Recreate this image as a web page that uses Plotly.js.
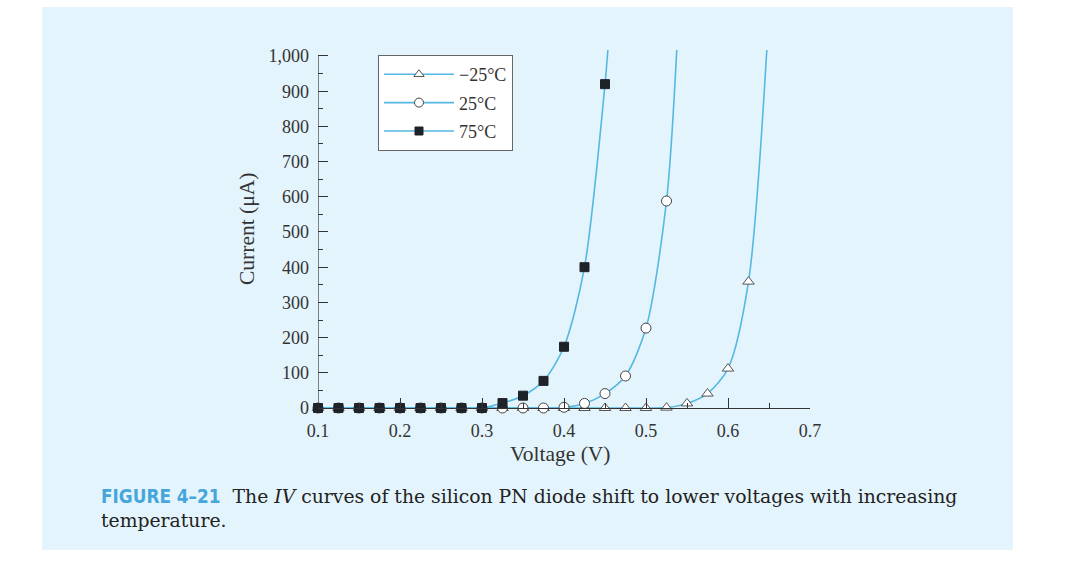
<!DOCTYPE html>
<html>
<head>
<meta charset="utf-8">
<script src="https://cdn.plot.ly/plotly-3.0.1.min.js"></script>
<style>html,body{margin:0;padding:0;background:#fff;}#chart{width:1072px;height:566px;}</style>
</head>
<body>
<div id="chart"></div>
<script>
// ---- data ----
const seriesNames = ["\u221225\u00b0C", "25\u00b0C", "75\u00b0C"];
const voltageM25 = [0.1,0.125,0.15,0.175,0.2,0.225,0.25,0.275,0.3,0.325,0.35,0.375,0.4,0.425,0.45,0.475,0.5,0.525,0.55,0.575,0.6,0.625];
const currentM25 = [0,0,0,0,0,0,0,0,0,0,0,0,0,0,0,0,0,1,13,41,112,359];
const voltage25 = [0.1,0.125,0.15,0.175,0.2,0.225,0.25,0.275,0.3,0.325,0.35,0.375,0.4,0.425,0.45,0.475,0.5,0.525];
const current25 = [0,0,0,0,0,0,0,0,0,0,0,0,2,13,41,91,227,588];
const voltage75 = [0.1,0.125,0.15,0.175,0.2,0.225,0.25,0.275,0.3,0.325,0.35,0.375,0.4,0.425,0.45];
const current75 = [0,0,0,0,0,0,0,0,0,14,35,77,174,400,920];
// where each curve leaves the top of the plot
const curveTopVoltage = [0.6473, 0.5375, 0.4535];
const curveTopCurrent = [1017, 1017, 1017];
const xTickVals = [0.1,0.2,0.3,0.4,0.5,0.6,0.7];
const yTickVals = [0,100,200,300,400,500,600,700,800,900,1000];
const xTitle = "Voltage (V)";
const yTitle = "Current (\u03bcA)";
const captionLabel = "FIGURE 4\u201321";
const captionText = "The <i>IV</i> curves of the silicon PN diode shift to lower voltages with increasing<br>temperature.";

// ---- styling / geometry ----
const W = 1072, H = 566;
const L = 318, R = 810, T = 50, B = 408;
const pw = R - L, ph = B - T;
const px = x => (x - L) / pw;
const py = y => (B - y) / ph;
const lineColor = "#55b8e2";
const serif = "Liberation Serif, Times New Roman, serif";
const captionSerif = "DejaVu Serif, Liberation Serif, serif";

const volts = [voltageM25, voltage25, voltage75];
const amps = [currentM25, current25, current75];
const markers = [
  {symbol: "triangle-up", size: 10, color: "#ffffff", line: {color: "#555", width: 1}},
  {symbol: "circle", size: 10, color: "#ffffff", line: {color: "#444", width: 1}},
  {symbol: "square", size: 9, color: "#1e2229", line: {color: "#1e2229", width: 1}}
];
const legendMarkers = [
  {symbol: "triangle-up", size: 9, color: "#ffffff", line: {color: "#555", width: 1}},
  {symbol: "circle", size: 9, color: "#ffffff", line: {color: "#444", width: 1}},
  {symbol: "square", size: 8, color: "#1e2229", line: {color: "#1e2229", width: 1}}
];

const traces = [];
for (let i = 0; i < 3; i++) {
  traces.push({
    x: volts[i].concat([curveTopVoltage[i]]),
    y: amps[i].concat([curveTopCurrent[i]]),
    type: "scatter", mode: "lines",
    line: {color: lineColor, width: 1.6, shape: "spline", smoothing: 0.8},
    showlegend: false, hoverinfo: "skip"
  });
}
for (let i = 0; i < 3; i++) {
  traces.push({
    x: volts[i], y: amps[i], type: "scatter", mode: "markers",
    marker: markers[i], cliponaxis: false, showlegend: false, name: seriesNames[i]
  });
}
for (let i = 0; i < 3; i++) {
  traces.push({
    x: [null], y: [null], type: "scatter", mode: "lines+markers",
    name: seriesNames[i], legendgroup: "g" + i,
    line: {color: lineColor, width: 1.6},
    marker: legendMarkers[i], showlegend: true
  });
}

const layout = {
  width: W, height: H,
  margin: {l: L, r: W - R, t: T, b: H - B, pad: 0},
  paper_bgcolor: "#ffffff",
  plot_bgcolor: "rgba(0,0,0,0)",
  showlegend: true,
  legend: {
    x: px(378), y: py(55), xanchor: "left", yanchor: "top",
    bgcolor: "#ffffff", bordercolor: "#666", borderwidth: 1,
    font: {family: serif, size: 18, color: "#333"},
    itemwidth: 70, tracegroupgap: 2
  },
  xaxis: {
    range: [0.1, 0.7], tickvals: xTickVals, ticktext: xTickVals.map(v => v.toFixed(1)),
    ticks: "inside", ticklen: 10, tickwidth: 1, tickcolor: "#333",
    minor: {ticks: "inside", ticklen: 5, dtick: 0.05, tick0: 0.1, tickcolor: "#333"},
    showline: true, linecolor: "#333", linewidth: 1.2,
    showgrid: false, zeroline: false,
    tickfont: {family: serif, size: 18, color: "#333"},
    ticklabelstandoff: 6, fixedrange: true
  },
  yaxis: {
    range: [0, 1017], tickvals: yTickVals,
    ticks: "inside", ticklen: 10, tickwidth: 1, tickcolor: "#333",
    minor: {ticks: "inside", ticklen: 5, dtick: 50, tick0: 0, tickcolor: "#333"},
    showline: false, showgrid: false, zeroline: false,
    separatethousands: true, tickformat: ",d",
    tickfont: {family: serif, size: 18, color: "#333"},
    ticklabelstandoff: 8, fixedrange: true
  },
  shapes: [
    {type: "rect", xref: "paper", yref: "paper", x0: px(42), x1: px(1013), y0: py(550), y1: py(7),
     fillcolor: "#e3f4fc", line: {width: 0}, layer: "below"},
    {type: "line", xref: "x", yref: "y", x0: 0.1, x1: 0.1, y0: 0, y1: 1000,
     line: {color: "#333", width: 1.2}, layer: "above"}
  ],
  annotations: [
    {xref: "paper", yref: "paper", x: px(560), y: py(454), xanchor: "center", yanchor: "middle",
     text: xTitle, showarrow: false, font: {family: serif, size: 21.5, color: "#333"}},
    {xref: "paper", yref: "paper", x: px(247), y: py(229), xanchor: "center", yanchor: "middle",
     text: yTitle, textangle: -90, showarrow: false, font: {family: serif, size: 21.5, color: "#333"}},
    {xref: "paper", yref: "paper", x: px(99), y: py(484), xanchor: "left", yanchor: "top", align: "left",
     text: '<span style="font-family:Liberation Sans Narrow, DejaVu Sans Condensed, Roboto, sans-serif;font-weight:bold;color:#45a6dc">' + captionLabel + '</span>&nbsp;&nbsp;' + captionText,
     showarrow: false, font: {family: captionSerif, size: 18.8, color: "#222"}}
  ]
};

Plotly.newPlot("chart", traces, layout, {displayModeBar: false, staticPlot: true});
</script>
</body>
</html>
